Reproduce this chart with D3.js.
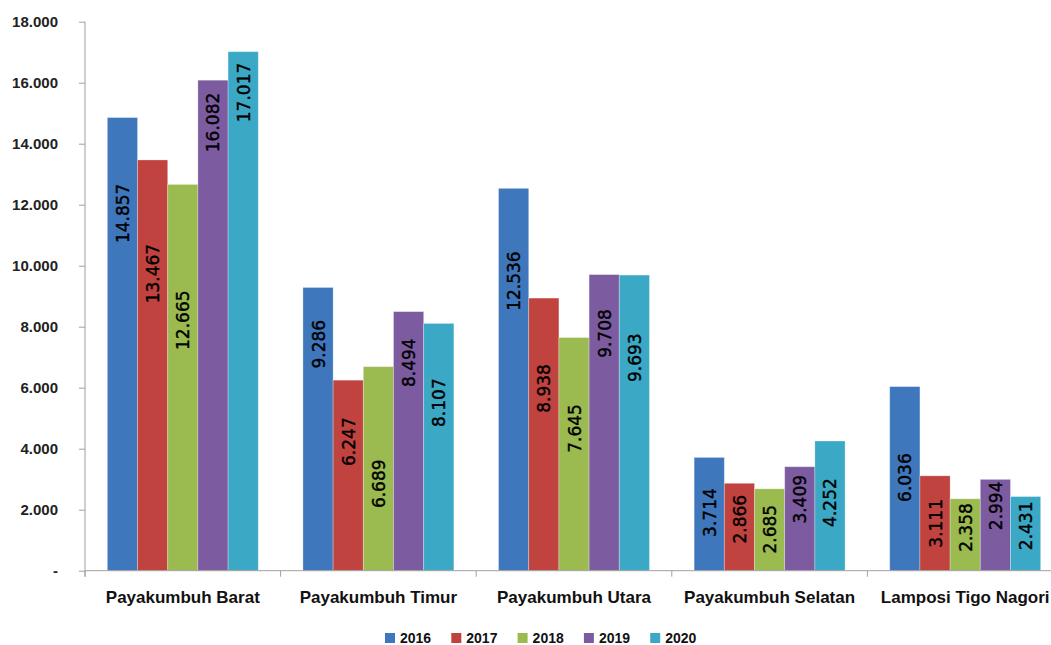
<!DOCTYPE html>
<html>
<head>
<meta charset="utf-8">
<script src="https://cdn.jsdelivr.net/npm/d3@7/dist/d3.min.js"></script>
<style>
  html, body { margin: 0; padding: 0; background: #fff; }
  svg { display: block; }
</style>
</head>
<body>
<svg id="chart" width="1051" height="645"></svg>
<script>
// ---- data ----
const categories = ["Payakumbuh Barat", "Payakumbuh Timur", "Payakumbuh Utara", "Payakumbuh Selatan", "Lamposi Tigo Nagori"];
const years = ["2016", "2017", "2018", "2019", "2020"];
const values2016 = [14857, 9286, 12536, 3714, 6036];
const values2017 = [13467, 6247, 8938, 2866, 3111];
const values2018 = [12665, 6689, 7645, 2685, 2358];
const values2019 = [16082, 8494, 9708, 3409, 2994];
const values2020 = [17017, 8107, 9693, 4252, 2431];
// value (in data units) at which each rotated data label is centred
const labelAt2016 = [11716, 7425, 9495, 1906, 3053];
const labelAt2017 = [9740, 4232, 5974, 1687, 1553];
const labelAt2018 = [8212, 2850, 4664, 1359, 1415];
const labelAt2019 = [14696, 6820, 7776, 2342, 2126];
const labelAt2020 = [15680, 5510, 6983, 2234, 1471];
const yTicks = [0, 2000, 4000, 6000, 8000, 10000, 12000, 14000, 16000, 18000];

const seriesValues = [values2016, values2017, values2018, values2019, values2020];
const seriesLabelAt = [labelAt2016, labelAt2017, labelAt2018, labelAt2019, labelAt2020];
const colors = ["#3f77bd", "#c0433f", "#9bbb50", "#7d5ba0", "#3ba9c6"];

// ---- layout ----
const svg = d3.select("#chart");
const x0 = d3.scaleBand().domain(categories).range([85, 1063]).paddingInner(0).paddingOuter(0);
const x1 = d3.scaleBand().domain(years).range([0, x0.bandwidth()]).paddingInner(0).paddingOuter(0.74);
const y = d3.scaleLinear().domain([0, 18000]).range([570.7, 21.7]);
const color = d3.scaleOrdinal().domain(years).range(colors);

const fmt = v => v === 0 ? "-" : d3.format(",")(v).replace(/,/g, ".");
const fmtLabel = v => (v / 1000).toFixed(3);

// bars
const rows = [];
categories.forEach((c, ci) => {
  years.forEach((yr, si) => {
    rows.push({ cat: c, year: yr, value: seriesValues[si][ci], labelAt: seriesLabelAt[si][ci] });
  });
});

svg.append("g").selectAll("rect").data(rows).join("rect")
  .attr("x", d => x0(d.cat) + x1(d.year))
  .attr("y", d => y(d.value))
  .attr("width", x1.bandwidth())
  .attr("height", d => y(0) - y(d.value))
  .attr("fill", d => color(d.year))
  .attr("stroke", "rgba(255,255,255,0.35)")
  .attr("stroke-width", 0.8);

// data labels
svg.append("g").selectAll("text").data(rows).join("text")
  .attr("transform", d => `translate(${x0(d.cat) + x1(d.year) + x1.bandwidth() / 2 + 0.5},${y(d.labelAt)}) rotate(-90)`)
  .attr("text-anchor", "middle")
  .attr("dominant-baseline", "central")
  .attr("font-family", "DejaVu Sans, Verdana, sans-serif")
  .attr("font-size", 17)
  .attr("fill", "#000")
  .attr("stroke", "#000")
  .attr("stroke-width", 0.4)
  .text(d => fmtLabel(d.value));

// y axis
const yAxis = svg.append("g").attr("transform", "translate(85,0)")
  .call(d3.axisLeft(y).tickValues(yTicks).tickSize(6).tickPadding(21).tickFormat(fmt));
yAxis.select(".domain").attr("stroke", "#a0a0a0").attr("d", `M0,${y(18000)}V${y(0) + 6}`);
yAxis.selectAll(".tick line").attr("stroke", "#a0a0a0");
yAxis.selectAll(".tick text")
  .attr("font-family", "Liberation Sans, Arial, sans-serif")
  .attr("font-weight", "bold")
  .attr("font-size", 15)
  .attr("fill", "#222");

// x axis
const xAxis = svg.append("g").attr("transform", `translate(0,${y(0)})`);
xAxis.append("line").attr("x1", 85).attr("x2", 1063).attr("y1", 0).attr("y2", 0)
  .attr("stroke", "#a0a0a0");
xAxis.selectAll("line.tk").data(categories).join("line").attr("class", "tk")
  .attr("x1", d => x0(d)).attr("x2", d => x0(d)).attr("y1", 0).attr("y2", 6)
  .attr("stroke", "#a0a0a0");
xAxis.selectAll("text").data(categories).join("text")
  .attr("x", d => x0(d) + x0.bandwidth() / 2)
  .attr("y", 32)
  .attr("text-anchor", "middle")
  .attr("font-family", "Liberation Sans, Arial, sans-serif")
  .attr("font-weight", "bold")
  .attr("font-size", 17)
  .attr("fill", "#111")
  .text(d => d);

// legend
const legend = svg.append("g").attr("transform", "translate(385,633)");
const li = legend.selectAll("g").data(years).join("g")
  .attr("transform", (d, i) => `translate(${i * 66.3},0)`);
li.append("rect").attr("width", 10).attr("height", 10).attr("fill", d => color(d));
li.append("text").attr("x", 15).attr("y", 5)
  .attr("dominant-baseline", "central")
  .attr("font-family", "Liberation Sans, Arial, sans-serif")
  .attr("font-weight", "bold")
  .attr("font-size", 14)
  .attr("fill", "#111")
  .text(d => d);
</script>
</body>
</html>
